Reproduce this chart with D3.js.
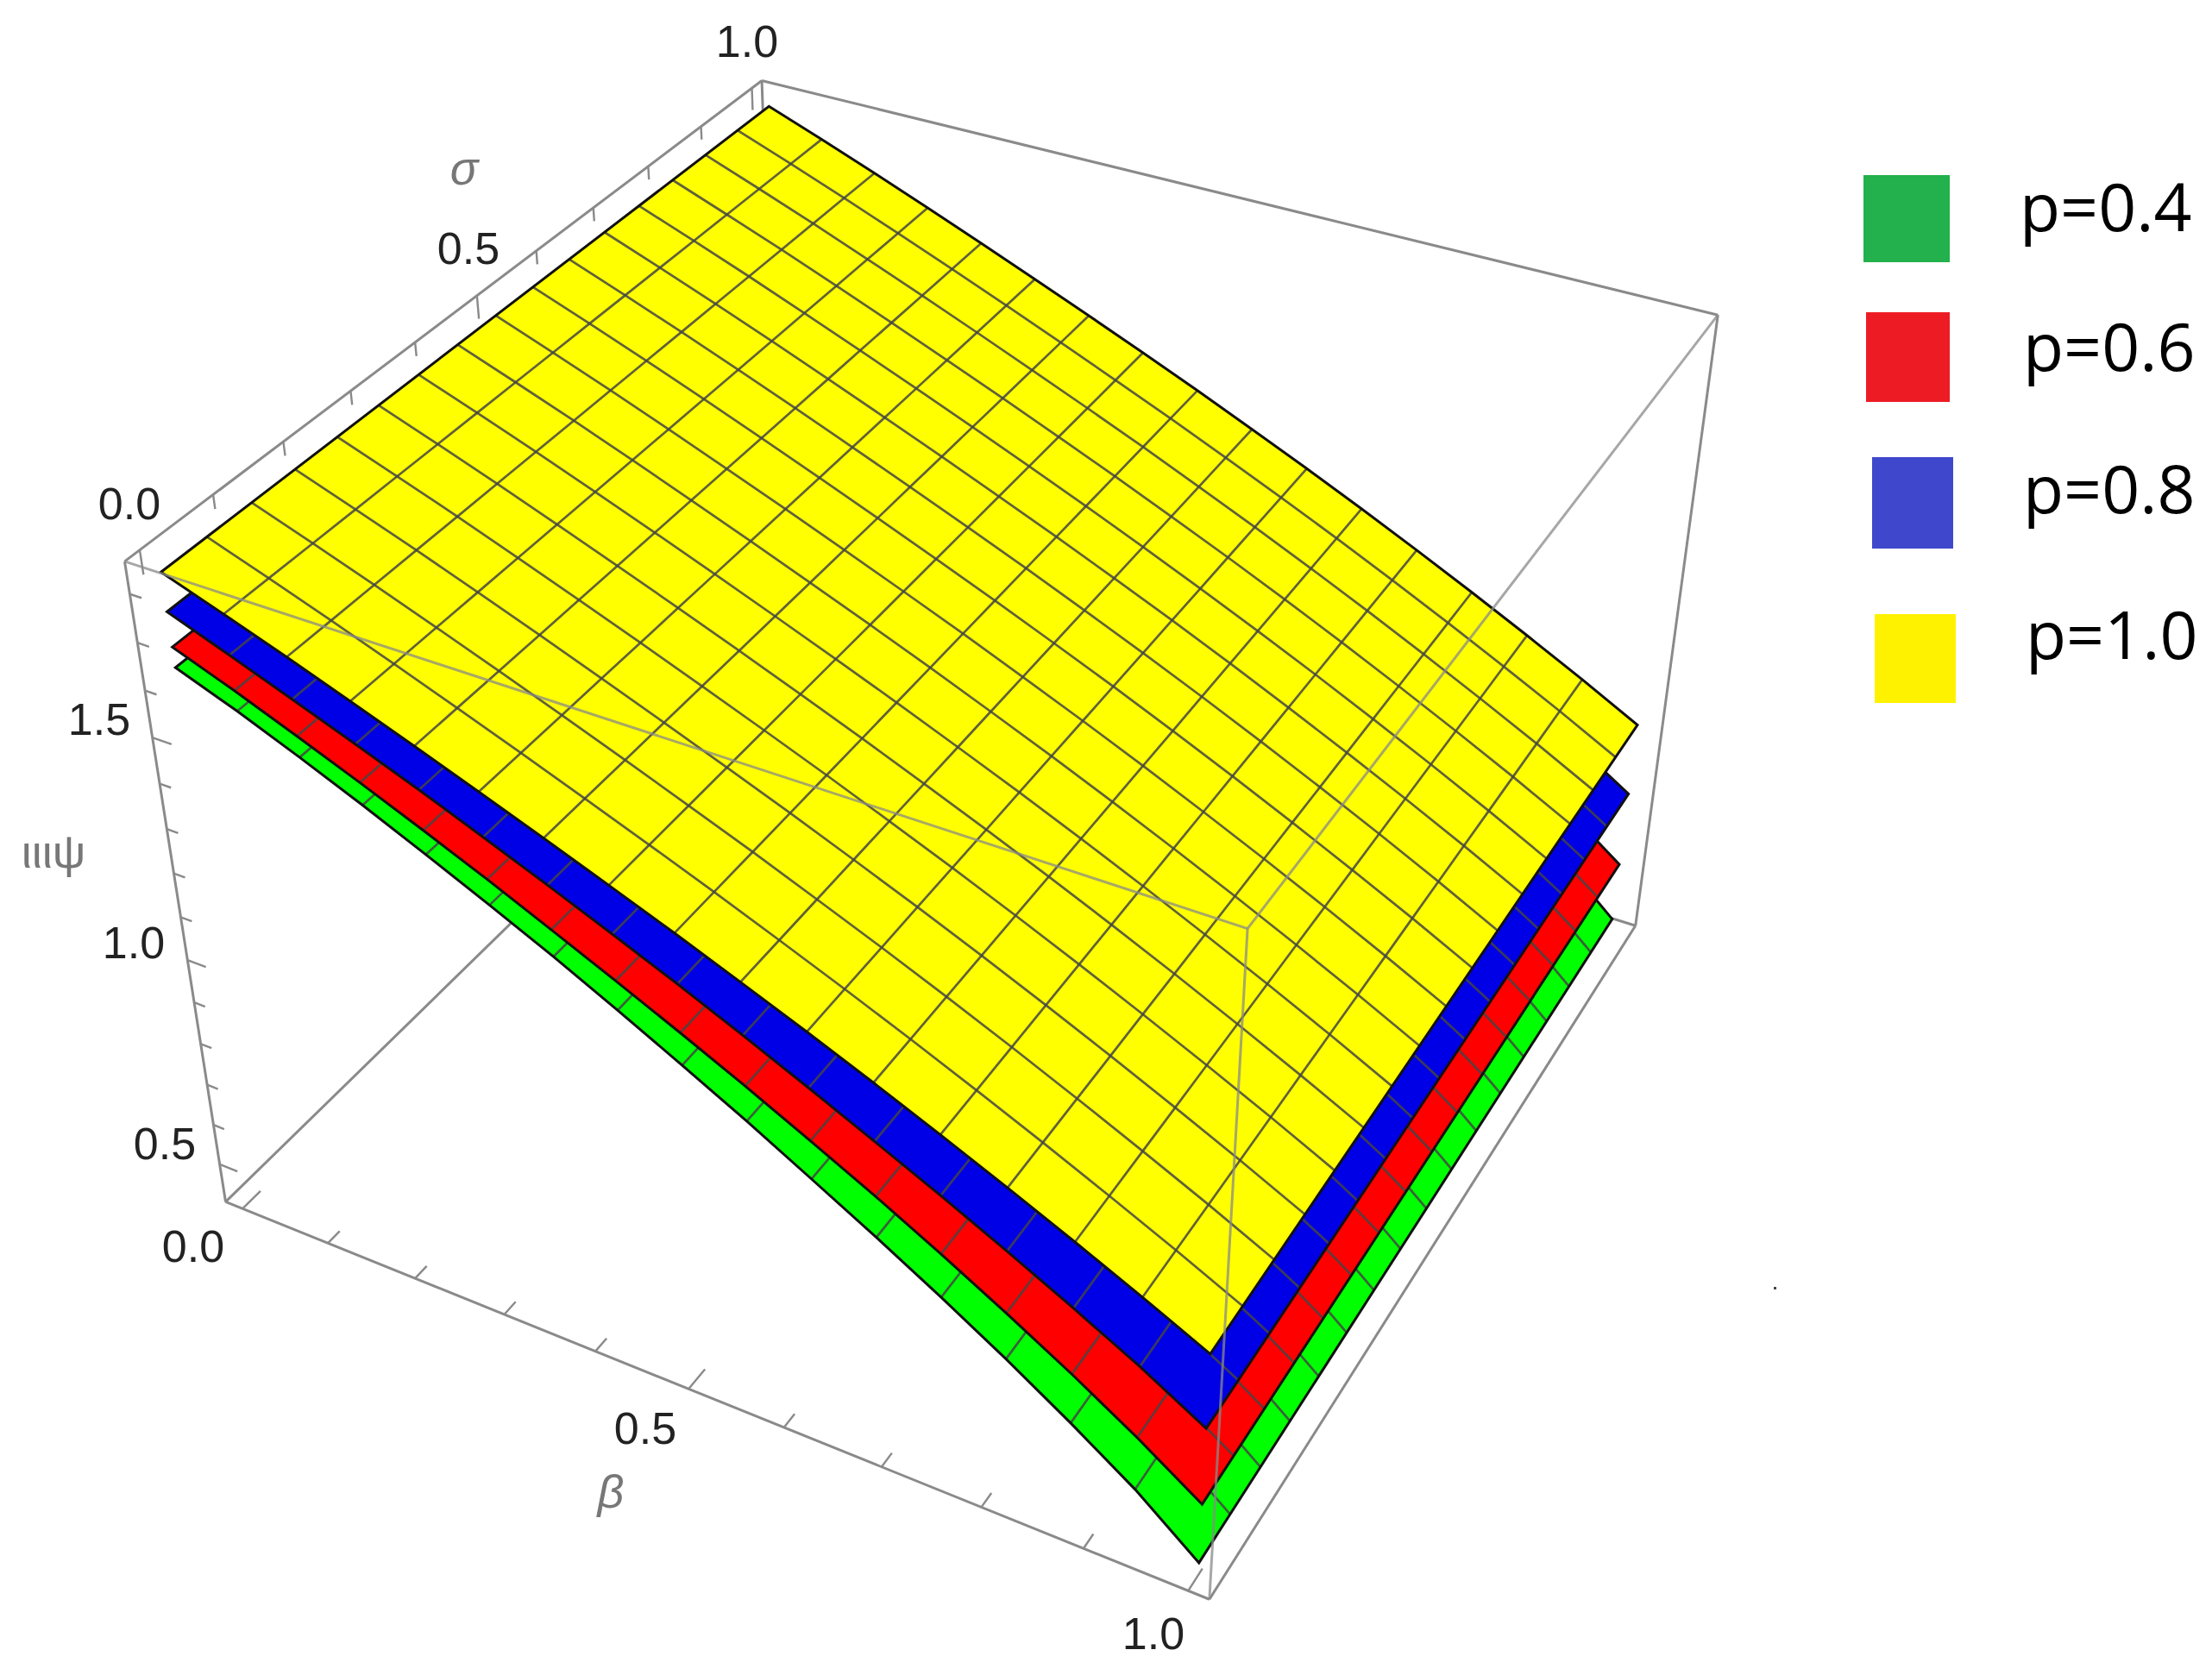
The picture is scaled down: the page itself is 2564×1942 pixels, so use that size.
<!DOCTYPE html>
<html>
<head>
<meta charset="utf-8">
<script src="https://d3js.org/d3.v7.min.js"></script>
<style>
  body { margin: 0; background: #fff; }
  text { font-family: "Liberation Sans", sans-serif; }
</style>
</head>
<body>
<div class="chart"></div>
<script>
var width = 2564, height = 1942;

/************* Data *************************************/
var betaValues = [0, 0.0625, 0.125, 0.1875, 0.25, 0.3125, 0.375, 0.4375, 0.5, 0.5625, 0.625, 0.6875, 0.75, 0.8125, 0.875, 0.9375, 1];
var sigmaValues = betaValues;
// psi does not move along sigma in the picture, so one row per p
var psiP04 = [1.637, 1.587, 1.532, 1.474, 1.413, 1.350, 1.285, 1.216, 1.144, 1.070, 0.992, 0.913, 0.830, 0.743, 0.650, 0.551, 0.434];
var psiP06 = [1.680, 1.630, 1.577, 1.522, 1.465, 1.406, 1.344, 1.281, 1.216, 1.149, 1.079, 1.007, 0.931, 0.851, 0.767, 0.677, 0.579];
var psiP08 = [1.753, 1.704, 1.654, 1.603, 1.551, 1.496, 1.440, 1.382, 1.323, 1.261, 1.197, 1.131, 1.064, 0.994, 0.921, 0.845, 0.761];
var psiP10 = [1.834, 1.788, 1.741, 1.692, 1.642, 1.591, 1.539, 1.486, 1.432, 1.376, 1.319, 1.260, 1.199, 1.136, 1.071, 1.004, 0.934];

var legendLabels = ["p=0.4", "p=0.6", "p=0.8", "p=1.0"];
var surfaceColors = ["#00ff00", "#ff0000", "#0000e6", "#ffff00"];
var legendColors = ["#22b14c", "#ed1c24", "#3f48cc", "#fff200"];

var planeTicks = [0, 0.1, 0.2, 0.3, 0.4, 0.5, 0.6, 0.7, 0.8, 0.9, 1];
var psiTicks = [0.5, 0.6, 0.7, 0.8, 0.9, 1, 1.1, 1.2, 1.3, 1.4, 1.5, 1.6, 1.7, 1.8];
var planeLabels = ["0.0", "0.5", "1.0"];
var psiLabels = ["0.5", "1.0", "1.5"];

/************* Scales and camera ***************/
var xScale = d3.scaleLinear().domain([-0.02, 1.02]).range([0, 1]);
var yScale = d3.scaleLinear().domain([-0.02, 1.02]).range([0, 1]);
var zScale = d3.scaleLinear().domain([0.4035, 1.866]).range([0, 1]);

// camera fitted on the corners of the box
var cam = [984.783315, 833.637472, -134.41699, 261.532855, 255.08287, -470.983481, -820.715226, 1393.422995, -0.110955, 0.208133, -0.120136];

function cube(x, y, z) {
    var w = cam[8] * x + cam[9] * y + cam[10] * z + 1;
    return [(cam[0] * x + cam[1] * y + cam[2] * z + cam[3]) / w,
            (cam[4] * x + cam[5] * y + cam[6] * z + cam[7]) / w];
}
function project(beta, sigma, psi) {
    return cube(xScale(beta), yScale(sigma), zScale(psi));
}
var line = d3.line();

var svg = d3.select(".chart").append("svg")
    .attr("width", width)
    .attr("height", height)
    .style("display", "block");

var plot = svg.append("g").attr("class", "plot").style("filter", "blur(0.5px)");

/************* Box edges behind the surfaces ***************/
var backEdges = [
    [[0, 0, 0], [0, 1, 0]], [[0, 1, 0], [1, 1, 0]], [[0, 1, 0], [0, 1, 1]],
    [[0, 0, 0], [1, 0, 0]], [[1, 0, 0], [1, 1, 0]], [[1, 1, 0], [1, 1, 1]],
    [[0, 0, 0], [0, 0, 1]], [[0, 0, 1], [0, 1, 1]], [[0, 1, 1], [1, 1, 1]]
];
var frontEdges = [[[0, 0, 1], [1, 0, 1]], [[1, 0, 1], [1, 1, 1]], [[1, 0, 1], [1, 0, 0]]];

function edgePath(e) {
    return line(e.map(function(c) { return cube(c[0], c[1], c[2]); }));
}
plot.append("g").attr("class", "box-back")
    .selectAll("path").data(backEdges).enter().append("path")
    .attr("d", edgePath)
    .attr("fill", "none").attr("stroke", "#8a8a8a").attr("stroke-width", 3);

/************* Ticks ***************/
function isMajor(d) { return Math.abs(d * 2 - Math.round(d * 2)) < 1e-6; }

var tickGroup = plot.append("g").attr("class", "ticks");
// beta axis: tick goes along sigma
tickGroup.selectAll(".beta-tick").data(planeTicks).enter().append("path")
    .attr("class", "beta-tick")
    .attr("d", function(d) {
        return line([cube(xScale(d), 0, 0), cube(xScale(d), isMajor(d) ? 0.027 : 0.018, 0)]);
    });
// sigma axis: tick goes down psi
tickGroup.selectAll(".sigma-tick").data(planeTicks).enter().append("path")
    .attr("class", "sigma-tick")
    .attr("d", function(d) {
        return line([cube(0, yScale(d), 1), cube(0, yScale(d), isMajor(d) ? 0.966 : 0.98)]);
    });
// psi axis: tick goes along beta
tickGroup.selectAll(".psi-tick").data(psiTicks).enter().append("path")
    .attr("class", "psi-tick")
    .attr("d", function(d) {
        return line([cube(0, 0, zScale(d)), cube(isMajor(d) ? 0.02 : 0.012, 0, zScale(d))]);
    });
tickGroup.selectAll("path").attr("fill", "none").attr("stroke", "#8a8a8a").attr("stroke-width", 2.4);

/************* Surfaces, lowest first ***************/
var surfaces = [psiP04, psiP06, psiP08, psiP10].map(function(psi, i) {
    return { psi: psi, color: surfaceColors[i] };
});

function rowAtSigma(s, psi) {
    return betaValues.map(function(b, i) { return project(b, s, psi[i]); });
}
function columnAtBeta(i, psi) {
    return sigmaValues.map(function(s) { return project(betaValues[i], s, psi[i]); });
}

var surfaceGroups = plot.append("g").attr("class", "surfaces")
    .selectAll("g").data(surfaces).enter().append("g");

surfaceGroups.append("path")
    .attr("d", function(d) {
        return line(rowAtSigma(0, d.psi).concat(rowAtSigma(1, d.psi).reverse())) + "Z";
    })
    .attr("fill", function(d) { return d.color; });

var meshIndex = d3.range(1, betaValues.length - 1);
surfaceGroups.each(function(d) {
    var g = d3.select(this);
    g.selectAll(".mesh-beta").data(meshIndex).enter().append("path")
        .attr("class", "mesh-beta")
        .attr("d", function(i) { return line(columnAtBeta(i, d.psi)); });
    g.selectAll(".mesh-sigma").data(meshIndex).enter().append("path")
        .attr("class", "mesh-sigma")
        .attr("d", function(i) { return line(rowAtSigma(sigmaValues[i], d.psi)); });
    g.selectAll(".mesh-beta,.mesh-sigma")
        .attr("fill", "none").attr("stroke", "#444").attr("stroke-opacity", 0.85).attr("stroke-width", 2.7);
    g.append("path")
        .attr("class", "outline")
        .attr("d", line(rowAtSigma(0, d.psi).concat(rowAtSigma(1, d.psi).reverse())) + "Z")
        .attr("fill", "none").attr("stroke", "#111").attr("stroke-width", 3);
});

/************* Box edges in front, they show through ***************/
plot.append("g").attr("class", "box-front")
    .selectAll("path").data(frontEdges).enter().append("path")
    .attr("d", edgePath)
    .attr("fill", "none").attr("stroke", "#8a8a8a").attr("stroke-opacity", 0.75).attr("stroke-width", 3);

/************* Axis labels ***************/
function tickLabel(sel, data, x, y) {
    sel.selectAll(null).data(data).enter().append("text")
        .attr("x", x).attr("y", y)
        .attr("text-anchor", "middle")
        .attr("font-size", 52)
        .attr("fill", "#222")
        .text(function(d) { return d; });
}
var labels = svg.append("g").attr("class", "labels");
var sigmaLabelX = { "0.0": 150, "0.5": 543, "1.0": 866 }, sigmaLabelY = { "0.0": 602, "0.5": 306, "1.0": 66 };
var betaLabelX = { "0.0": 224, "0.5": 748, "1.0": 1337 }, betaLabelY = { "0.0": 1463, "0.5": 1674, "1.0": 1912 };
var psiLabelX = { "0.5": 191, "1.0": 155, "1.5": 115 }, psiLabelY = { "0.5": 1344, "1.0": 1111, "1.5": 852 };

tickLabel(labels, planeLabels, function(d) { return sigmaLabelX[d]; }, function(d) { return sigmaLabelY[d]; });
tickLabel(labels, planeLabels, function(d) { return betaLabelX[d]; }, function(d) { return betaLabelY[d]; });
tickLabel(labels, psiLabels, function(d) { return psiLabelX[d]; }, function(d) { return psiLabelY[d]; });

var titles = [
    { t: "σ", x: 538, y: 214, size: 54, style: "italic" },
    { t: "β", x: 708, y: 1748, size: 54, style: "italic" },
    { t: "ιιιψ", x: 62, y: 1006, size: 54, style: "normal" }
];
labels.selectAll(".axis-title").data(titles).enter().append("text")
    .attr("class", "axis-title")
    .attr("x", function(d) { return d.x; })
    .attr("y", function(d) { return d.y; })
    .attr("text-anchor", "middle")
    .attr("font-size", function(d) { return d.size; })
    .attr("font-style", function(d) { return d.style; })
    .attr("fill", "#777")
    .text(function(d) { return d.t; });

/************* Legend, the swatches are not quite aligned in the picture ***************/
var legendX = [2160, 2163, 2170, 2173], legendW = [100, 97, 94, 94];
var legendY = [203, 362, 530, 712], legendH = [101, 104, 106, 103];
var legendTextX = [2341, 2345, 2345, 2348], legendTextY = [268, 430, 595, 764];

var legendGroup = svg.append("g").attr("class", "legend");
legendGroup.selectAll("rect").data(legendLabels).enter().append("rect")
    .attr("x", function(d, i) { return legendX[i]; })
    .attr("y", function(d, i) { return legendY[i]; })
    .attr("width", function(d, i) { return legendW[i]; })
    .attr("height", function(d, i) { return legendH[i]; })
    .attr("fill", function(d, i) { return legendColors[i]; });
legendGroup.selectAll("text").data(legendLabels).enter().append("text")
    .attr("x", function(d, i) { return legendTextX[i]; })
    .attr("y", function(d, i) { return legendTextY[i]; })
    .attr("font-size", 77)
    .style("font-family", "'Open Sans', sans-serif")
    .attr("fill", "#000")
    .text(function(d) { return d; });

// small speck that is in the picture
svg.append("rect").attr("x", 2056).attr("y", 1492).attr("width", 3).attr("height", 3).attr("fill", "#444");
</script>
</body>
</html>
